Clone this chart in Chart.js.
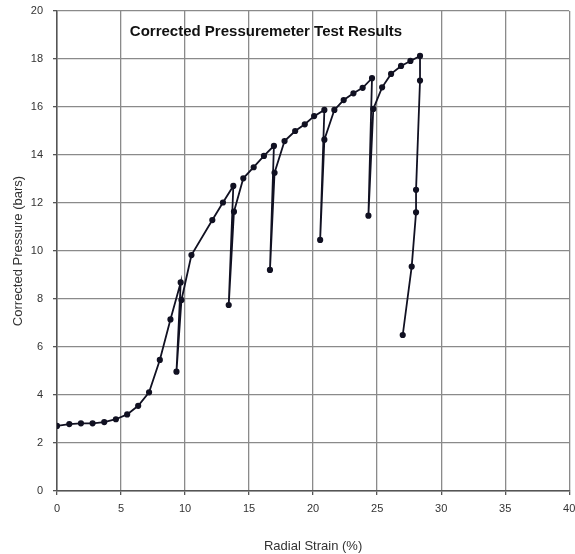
<!DOCTYPE html>
<html>
<head>
<meta charset="utf-8">
<script src="https://cdn.jsdelivr.net/npm/chart.js@4"></script>
<style>
  html, body { margin: 0; padding: 0; background: #fff; }
  #wrap { width: 575px; height: 554px; }
</style>
</head>
<body>
<div id="wrap"><canvas id="chart" width="575" height="554"></canvas></div>
<script>
// radial strain (%) and corrected pressure (bars), in test order
const strain = [0, 0.96, 1.87, 2.78, 3.69, 4.6, 5.48, 6.34, 7.19, 8.03, 8.86, 9.66, 9.33, 9.72, 10.5,
  12.13, 12.96, 13.77, 13.41, 13.82, 14.55, 15.36, 16.16, 16.94, 16.63, 16.99, 17.77, 18.6, 19.35,
  20.08, 20.88, 20.55, 20.88, 21.66, 22.39, 23.15, 23.87, 24.6, 24.32, 24.7, 25.39, 26.09, 26.87,
  27.6, 28.35, 28.35, 28.04, 28.04, 27.7, 27.0]
const pressure = [2.71, 2.79, 2.82, 2.82, 2.87, 2.99, 3.19, 3.55, 4.11, 5.46, 7.15, 8.69, 4.97, 7.96, 9.83,
  11.29, 12.02, 12.71, 7.75, 11.64, 13.03, 13.49, 13.96, 14.38, 9.21, 13.26, 14.58, 15.0, 15.28,
  15.62, 15.88, 10.46, 14.64, 15.88, 16.29, 16.57, 16.8, 17.2, 11.47, 15.92, 16.82, 17.38, 17.71,
  17.92, 18.13, 17.1, 12.55, 11.61, 9.35, 6.5]
const xTicks = [0, 5, 10, 15, 20, 25, 30, 35, 40]
const yTicks = [0, 2, 4, 6, 8, 10, 12, 14, 16, 18, 20]
const chartTitle = 'Corrected Pressuremeter Test Results'

const points = strain.map((x, i) => ({x: x, y: pressure[i]}))

const titleInside = {
  id: 'titleInside',
  afterDraw(chart) {
    const ctx = chart.ctx
    const a = chart.chartArea
    ctx.save()
    ctx.font = 'bold 15px "Liberation Sans", Arial, sans-serif'
    ctx.fillStyle = '#111'
    ctx.textAlign = 'center'
    ctx.textBaseline = 'middle'
    ctx.fillText(chartTitle, a.left + 209, a.top + 21)
    ctx.restore()
  }
}

const tickFont = {family: '"Liberation Sans", Arial, sans-serif', size: 11}
const titleFont = {family: '"Liberation Sans", Arial, sans-serif', size: 13}

new Chart(document.getElementById('chart'), {
  type: 'scatter',
  data: {
    datasets: [{
      data: points,
      showLine: true,
      borderColor: '#111122',
      backgroundColor: '#111122',
      borderWidth: 1.8,
      pointRadius: 2.2,
      pointStyle: 'circle',
      tension: 0
    }]
  },
  options: {
    responsive: false,
    animation: false,
    layout: {padding: {top: 11, right: 5, left: 0, bottom: 0}},
    plugins: {legend: {display: false}, tooltip: {enabled: false}},
    scales: {
      x: {
        type: 'linear', min: 0, max: 40,
        afterBuildTicks: s => { s.ticks = xTicks.map(v => ({value: v})) },
        afterFit: s => { s.height = 63; s.paddingLeft = 0; s.paddingRight = 0 },
        grid: {color: '#8a8a8a', lineWidth: 1.3, tickLength: 4, tickColor: '#555'},
        border: {color: '#555', width: 1.5},
        ticks: {color: '#333', font: tickFont, padding: 7, maxRotation: 0},
        title: {display: true, text: 'Radial Strain (%)', color: '#333', font: titleFont, padding: {top: 4, bottom: 0}}
      },
      y: {
        type: 'linear', min: 0, max: 20,
        afterBuildTicks: s => { s.ticks = yTicks.map(v => ({value: v})) },
        afterFit: s => { s.width = 57; s.paddingTop = 0; s.paddingBottom = 0 },
        grid: {color: '#8a8a8a', lineWidth: 1.3, tickLength: 4, tickColor: '#555'},
        border: {color: '#555', width: 1.5},
        ticks: {color: '#333', font: tickFont, padding: 10},
        title: {display: true, text: 'Corrected Pressure (bars)', color: '#333', font: titleFont, padding: {top: 11, bottom: 0}}
      }
    }
  },
  plugins: [titleInside]
})
</script>
</body>
</html>
